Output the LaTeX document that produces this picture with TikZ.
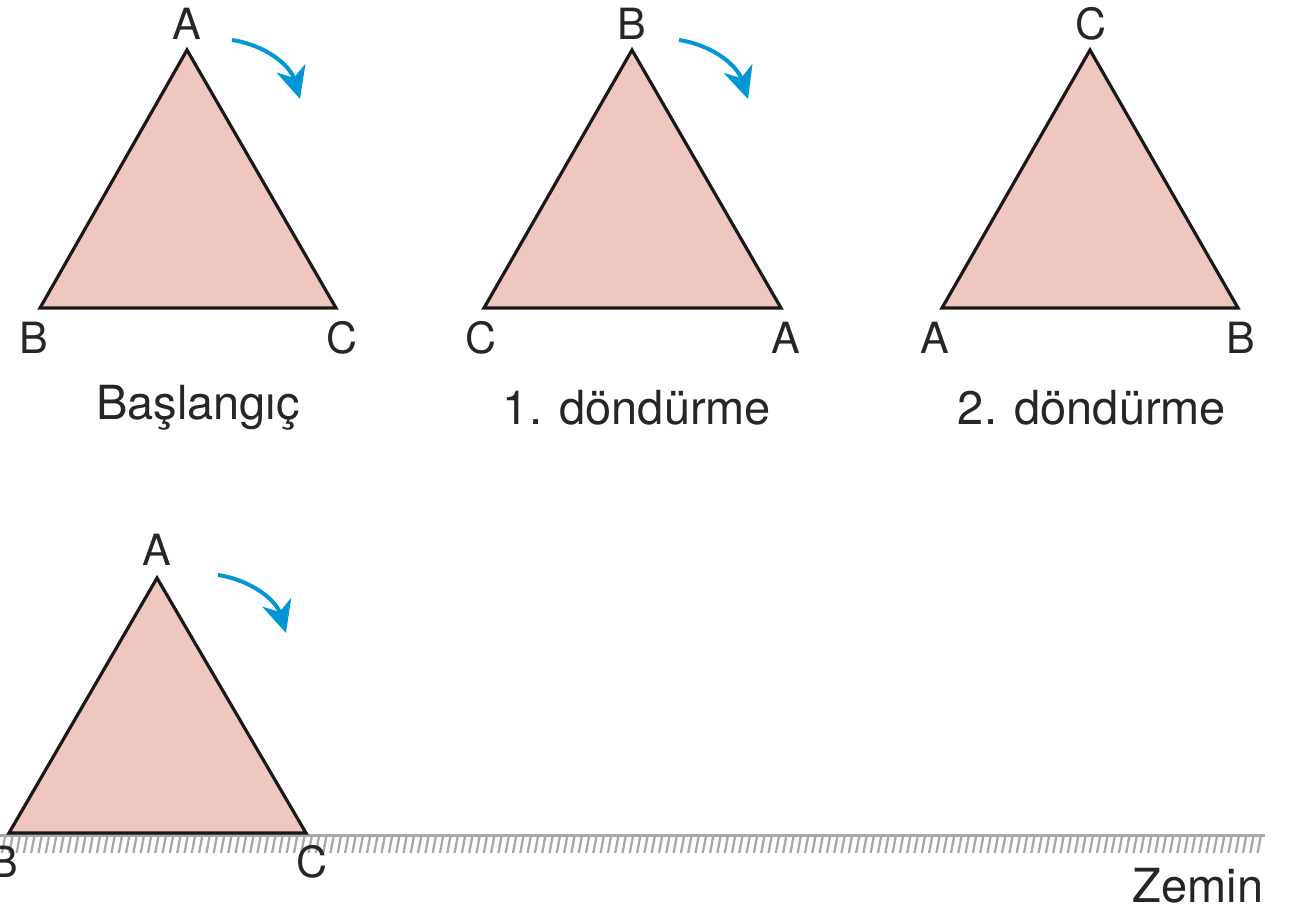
\documentclass[tikz,border=0pt]{standalone}
\usepackage{fontspec}
\setmainfont{TeX Gyre Heros}
\usetikzlibrary{arrows.meta}
\definecolor{trifill}{HTML}{F0C6C0}
\definecolor{arrblue}{HTML}{0096D8}
\definecolor{groundgray}{HTML}{A8A8A8}
\tikzset{
  tri/.style={draw=black!90, fill=trifill, line width=3.2pt, line join=miter},
  lbl/.style={font=\fontsize{43}{45}\selectfont, text=black!85, inner sep=0pt},
  captext/.style={font=\fontsize{47}{49}\selectfont, text=black!85, inner sep=0pt},
  rot/.style={draw=arrblue, line width=4pt, -{Stealth[length=32pt,width=30pt,inset=10pt]}},
  hatch/.style={draw=groundgray, line width=2.3pt}
}
\begin{document}
\begin{tikzpicture}[x=1pt,y=-1pt]
\useasboundingbox (0,0) rectangle (1303,911);
% triangle 1
\coordinate (a1) at (187,50); \coordinate (b1) at (40,308); \coordinate (c1) at (336,308);
\draw[tri] (a1) -- (b1) -- (c1) -- cycle;
\node[lbl] (la1) at (187,24) {A};
\node[lbl] (lb1) at (34,338) {B};
\node[lbl] (lc1) at (342,338) {C};
\node[captext] (cap1) at (198,408) {Başlangıç};
\coordinate (r1s) at (232,40); \coordinate (r1e) at (300,99);
\draw[rot] (r1s) .. controls (265,45) and (290,65) .. (r1e);
% triangle 2
\coordinate (a2) at (632,50); \coordinate (b2) at (484,308); \coordinate (c2) at (781,308);
\draw[tri] (a2) -- (b2) -- (c2) -- cycle;
\node[lbl] (la2) at (632,24) {B};
\node[lbl] (lb2) at (481,338) {C};
\node[lbl] (lc2) at (786,338) {A};
\node[captext] (cap2) at (637,408) {1. döndürme};
\coordinate (r2s) at (679,40); \coordinate (r2e) at (748,99);
\draw[rot] (r2s) .. controls (712,45) and (737,65) .. (r2e);
% triangle 3
\coordinate (a3) at (1090,50); \coordinate (b3) at (942,308); \coordinate (c3) at (1238,308);
\draw[tri] (a3) -- (b3) -- (c3) -- cycle;
\node[lbl] (la3) at (1091,24) {C};
\node[lbl] (lb3) at (935,338) {A};
\node[lbl] (lc3) at (1241,338) {B};
\node[captext] (cap3) at (1092,408) {2. döndürme};
% ground
\coordinate (g0) at (0,835); \coordinate (g1) at (1265,835);
\foreach \x in {5,12.3,...,1266} {
  \draw[hatch] (\x,837) -- (\x-3,853);
}
\draw[draw=groundgray, line width=3pt] (g0) -- (g1);
% triangle 4
\coordinate (a4) at (157,578); \coordinate (b4) at (9,833); \coordinate (c4) at (306,833);
\draw[tri] (a4) -- (b4) -- (c4) -- cycle;
\node[lbl] (la4) at (157,550) {A};
\node[lbl] (lb4) at (4,862) {B};
\node[lbl] (lc4) at (312,862) {C};
\coordinate (r4s) at (218,575); \coordinate (r4e) at (286,633);
\draw[rot] (r4s) .. controls (251,580) and (276,600) .. (r4e);
\node[captext] (zemin) at (1198,886) {Zemin};
\end{tikzpicture}
\end{document}
